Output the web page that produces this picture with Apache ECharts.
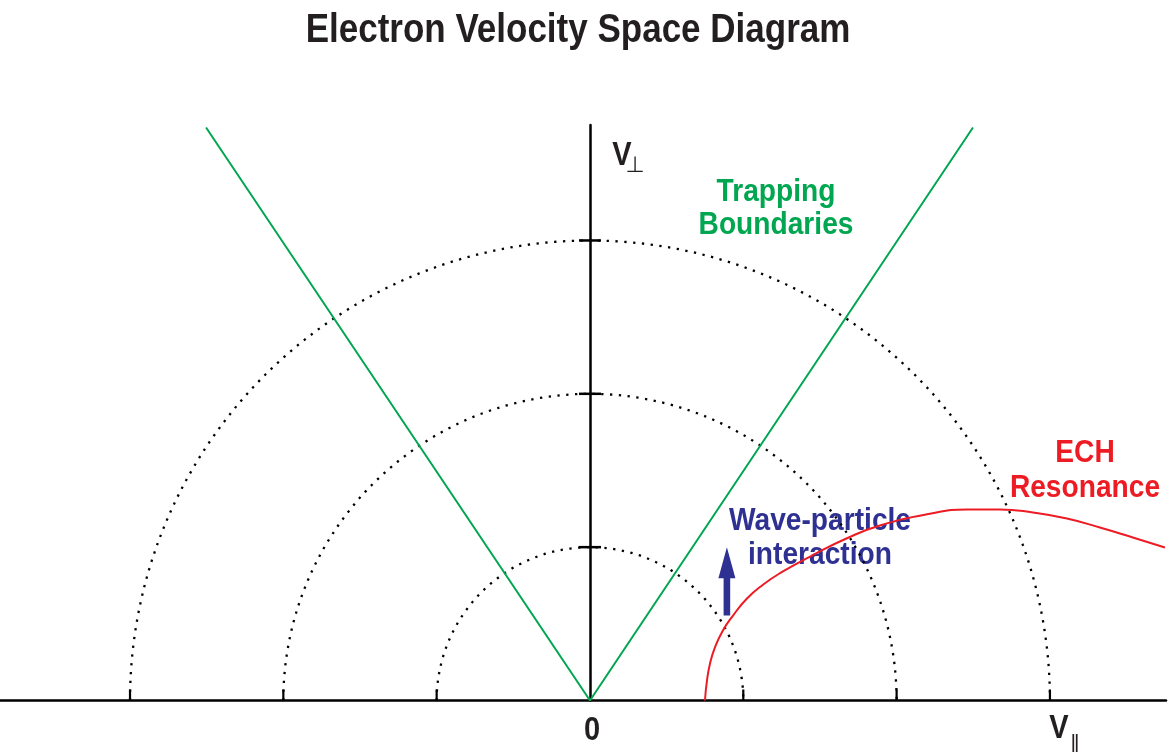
<!DOCTYPE html>
<html><head><meta charset="utf-8">
<script src="https://cdn.jsdelivr.net/npm/echarts@6/dist/echarts.min.js"></script>
<style>html,body{margin:0;padding:0;background:#fff}#c{width:1170px;height:752px}</style>
</head><body><div id="c"></div>
<script>
// ---- data (velocity units, radius of inner circle = 1) ----
const xRange = [-3.848, 3.757];
const yRange = [0, 3.753];
const xTickValues = [-3, -2, -1, 1, 2, 3];
const yTickValues = [1, 2, 3];
const circleRadii = [1, 2, 3];
const boundaryLine = [[-2.504, 3.737], [0, 0], [2.498, 3.737]];
const echResonance = [
  [0.750, 0.000], [0.763, 0.130], [0.783, 0.241], [0.815, 0.346], [0.867, 0.457],
  [0.933, 0.554], [1.024, 0.665], [1.128, 0.755], [1.239, 0.830], [1.454, 0.948],
  [1.676, 1.058], [1.891, 1.141], [2.217, 1.218], [2.459, 1.246], [2.674, 1.246],
  [2.889, 1.226], [3.111, 1.187], [3.326, 1.128], [3.541, 1.063], [3.750, 0.998]
];
const arrowX = [0.893];
const arrowY = [0.554, 1.0];
const xAxisLabels = ['0', 'V'];

const FONT = "'Liberation Sans',Arial,sans-serif";
const GREEN = '#00a650', RED = '#ed1c24', NAVY = '#2e3192', INK = '#231f20';

const chart = echarts.init(document.getElementById('c'), null, {renderer: 'canvas'});

function txt(x, y, text, size, color, sx) {
  return {type: 'text', x: x, y: y, scaleX: sx || 0.88, silent: true,
    style: {text: text, font: 'bold ' + size + 'px ' + FONT, fill: color,
      align: 'center', verticalAlign: 'middle'}};
}

chart.setOption({
  animation: false,
  backgroundColor: '#fff',
  grid: {left: 0, right: 4, top: 125, bottom: 51.5, containLabel: false},
  xAxis: {type: 'value', min: xRange[0], max: xRange[1],
    axisLine: {show: true, onZero: false, lineStyle: {color: '#000', width: 2.5}},
    axisTick: {show: false}, axisLabel: {show: false}, splitLine: {show: false}},
  yAxis: {type: 'value', min: yRange[0], max: yRange[1],
    axisLine: {show: true, onZero: true, lineStyle: {color: '#000', width: 2.5}},
    axisTick: {show: false}, axisLabel: {show: false}, splitLine: {show: false}},
  series: [
    { type: 'custom', name: 'circles', coordinateSystem: 'cartesian2d', clip: false,
      data: circleRadii.map(r => [r, 0]),
      renderItem: function (params, api) {
        const c = api.coord([0, 0]);
        const e = api.coord([api.value(0), 0]);
        return {type: 'arc', shape: {cx: c[0], cy: c[1], r: e[0] - c[0],
          startAngle: Math.PI, endAngle: 2 * Math.PI, clockwise: true},
          style: {stroke: '#000', fill: null, lineWidth: 2.3, lineDash: [2.3, 6.5]}};
      }
    },
    { type: 'custom', name: 'xticks', coordinateSystem: 'cartesian2d', clip: false,
      data: xTickValues.map(v => [v, 0]),
      renderItem: function (params, api) {
        const p = api.coord([api.value(0), 0]);
        return {type: 'line', shape: {x1: p[0], y1: p[1], x2: p[0], y2: p[1] - 11},
          style: {stroke: '#000', lineWidth: 2.2}};
      }
    },
    { type: 'custom', name: 'yticks', coordinateSystem: 'cartesian2d', clip: false,
      data: yTickValues.map(v => [0, v]),
      renderItem: function (params, api) {
        const p = api.coord([0, api.value(1)]);
        return {type: 'line', shape: {x1: p[0] - 11, y1: p[1], x2: p[0] + 11, y2: p[1]},
          style: {stroke: '#000', lineWidth: 2.5}};
      }
    },
    { type: 'line', name: 'Trapping Boundaries', data: boundaryLine, symbol: 'none',
      lineStyle: {color: GREEN, width: 2}, z: 3 },
    { type: 'line', name: 'ECH Resonance', data: echResonance, symbol: 'none',
      smooth: 0.5,
      lineStyle: {color: RED, width: 2}, z: 3 },
    { type: 'custom', name: 'arrow', coordinateSystem: 'cartesian2d', clip: false,
      data: [[arrowX[0], arrowY[0], arrowY[1]]],
      renderItem: function (params, api) {
        const b = api.coord([api.value(0), api.value(1)]);
        const t = api.coord([api.value(0), api.value(2)]);
        const hw = 3.3, hh = 8.5, hl = 31;
        return {type: 'polygon', shape: {points: [
          [b[0] - hw, b[1]], [b[0] - hw, t[1] + hl], [b[0] - hh, t[1] + hl], [t[0], t[1]],
          [b[0] + hh, t[1] + hl], [b[0] + hw, t[1] + hl], [b[0] + hw, b[1]]]},
          style: {fill: NAVY}};
      }
    }
  ],
  graphic: [
    txt(578, 31, 'Electron Velocity Space Diagram', 40, INK, 0.875),
    txt(622, 156, 'V', 33, INK),
    {type: 'text', x: 635, y: 166, silent: true, style: {text: '⊥', font: '22px DejaVu Sans', fill: INK, align: 'center', verticalAlign: 'middle'}},
    txt(776, 192, 'Trapping', 32, GREEN),
    txt(776, 225, 'Boundaries', 32, GREEN),
    txt(1085, 453, 'ECH', 32, RED),
    txt(1085, 488, 'Resonance', 32, RED),
    txt(820, 521, 'Wave-particle', 32, NAVY),
    txt(820, 555, 'interaction', 32, NAVY),
    txt(592, 731, xAxisLabels[0], 33, INK),
    txt(1059, 729, xAxisLabels[1], 33, INK),
    {type: 'text', x: 1075, y: 745, silent: true, style: {text: '∥', font: '22px DejaVu Sans', fill: INK, align: 'center', verticalAlign: 'middle'}}
  ]
});
</script></body></html>
